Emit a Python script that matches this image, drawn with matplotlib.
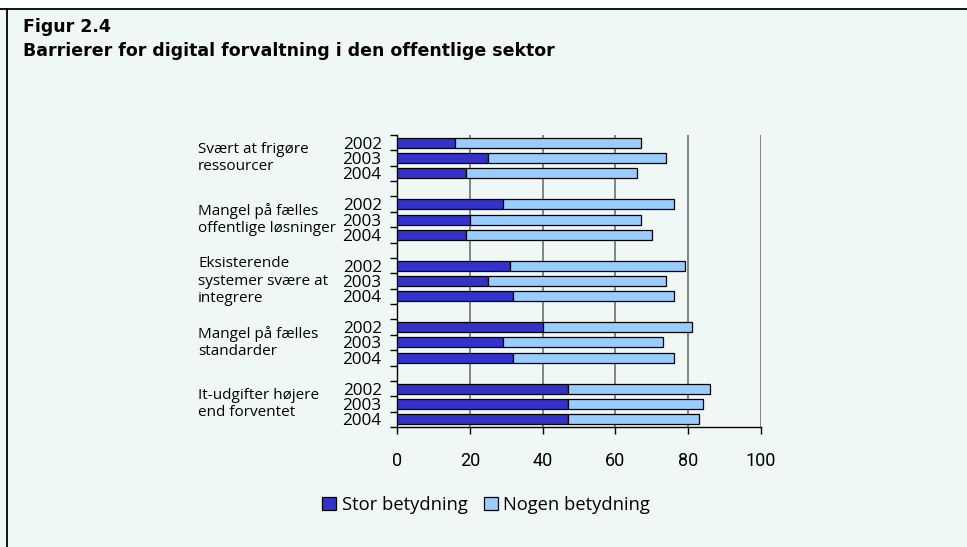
import matplotlib.pyplot as plt
import matplotlib.transforms as mtransforms
import numpy as np

# Data (percent)
categories = ['Svært at frigøre\nressourcer',
              'Mangel på fælles\noffentlige løsninger',
              'Eksisterende\nsystemer svære at\nintegrere',
              'Mangel på fælles\nstandarder',
              'It-udgifter højere\nend forventet']
years = ['2002', '2003', '2004']
stor = [[16, 25, 19],
        [29, 20, 19],
        [31, 25, 32],
        [40, 29, 32],
        [47, 47, 47]]
total = [[67, 74, 66],
         [76, 67, 70],
         [79, 74, 76],
         [81, 73, 76],
         [86, 84, 83]]
nogen = [[t - s for t, s in zip(tr, sr)] for tr, sr in zip(total, stor)]

bg = '#f0f8f5'
dark = '#3333cc'
light = '#99ccff'

plt.rcParams['font.family'] = ['Open Sans', 'DejaVu Sans']

fig = plt.figure(figsize=(9.67, 5.47), dpi=100)
fig.patch.set_facecolor(bg)

# white strip at top with the border lines
fig.patches.append(plt.Rectangle((0, 1 - 9 / 547), 1, 9 / 547, transform=fig.transFigure,
                                 facecolor='white', edgecolor='none', zorder=0))
fig.add_artist(plt.Line2D([0, 1], [1 - 9 / 547, 1 - 9 / 547], color='black', lw=1.3,
                          transform=fig.transFigure))
fig.add_artist(plt.Line2D([7 / 967, 7 / 967], [0, 1 - 9 / 547], color='black', lw=1.3,
                          transform=fig.transFigure))

fig.text(23 / 967, 1 - 32 / 547, 'Figur 2.4', fontsize=12.5, fontweight='bold',
         family='DejaVu Sans', va='baseline', ha='left')
fig.text(23 / 967, 1 - 56 / 547, 'Barrierer for digital forvaltning i den offentlige sektor',
         fontsize=12.5, fontweight='bold', family='DejaVu Sans', va='baseline', ha='left')

ax = fig.add_axes([397 / 967, 1 - 427 / 547, 364 / 967, 292 / 547])
ax.set_facecolor(bg)

pos = []
stor_vals = []
nogen_vals = []
for g in range(len(categories)):
    for i in range(len(years)):
        pos.append(g * 4 + i)
        stor_vals.append(stor[g][i])
        nogen_vals.append(nogen[g][i])
pos = np.array(pos)

ax.barh(pos, stor_vals, height=0.65, color=dark, edgecolor='black', lw=0.9,
        label='Stor betydning', zorder=3)
ax.barh(pos, nogen_vals, left=stor_vals, height=0.65, color=light, edgecolor='black',
        lw=0.9, label='Nogen betydning', zorder=3)

ax.set_xlim(0, 100)
ax.set_ylim(18.5, -0.5)
ax.set_xticks(range(0, 101, 20))
ax.set_xticklabels([str(v) for v in range(0, 101, 20)], family='Roboto', fontsize=13)
ax.tick_params(axis='x', length=5, width=1, direction='out', pad=13)
ax.xaxis.grid(True, color='#707070', lw=1.2, zorder=0)

ax.set_yticks(pos)
ax.set_yticklabels(years * len(categories), fontsize=12.3, family='Open Sans')
ax.set_yticks(np.arange(-0.5, 19, 1), minor=True)
ax.tick_params(axis='y', which='major', length=0, pad=11)
ax.tick_params(axis='y', which='minor', length=5, width=1, direction='out')

for s in ['top', 'right']:
    ax.spines[s].set_visible(False)
ax.spines['left'].set_linewidth(1)
ax.spines['bottom'].set_linewidth(1)

# category names on the far left, centred on each group of three bars
trans = mtransforms.blended_transform_factory(fig.transFigure, ax.transData)
for g, cat in enumerate(categories):
    ax.text(198 / 967, g * 4 + 1, cat, transform=trans,
            fontsize=11, ha='left', va='center', linespacing=1.2)

handles, labels = ax.get_legend_handles_labels()
fig.legend(handles, labels, loc='center', bbox_to_anchor=(486 / 967, 1 - 505 / 547),
           ncol=2, frameon=False, fontsize=13.2, handlelength=0.75, handleheight=0.75,
           handletextpad=0.3, columnspacing=0.9)

fig.savefig('out.png', dpi=100, facecolor=fig.get_facecolor())
